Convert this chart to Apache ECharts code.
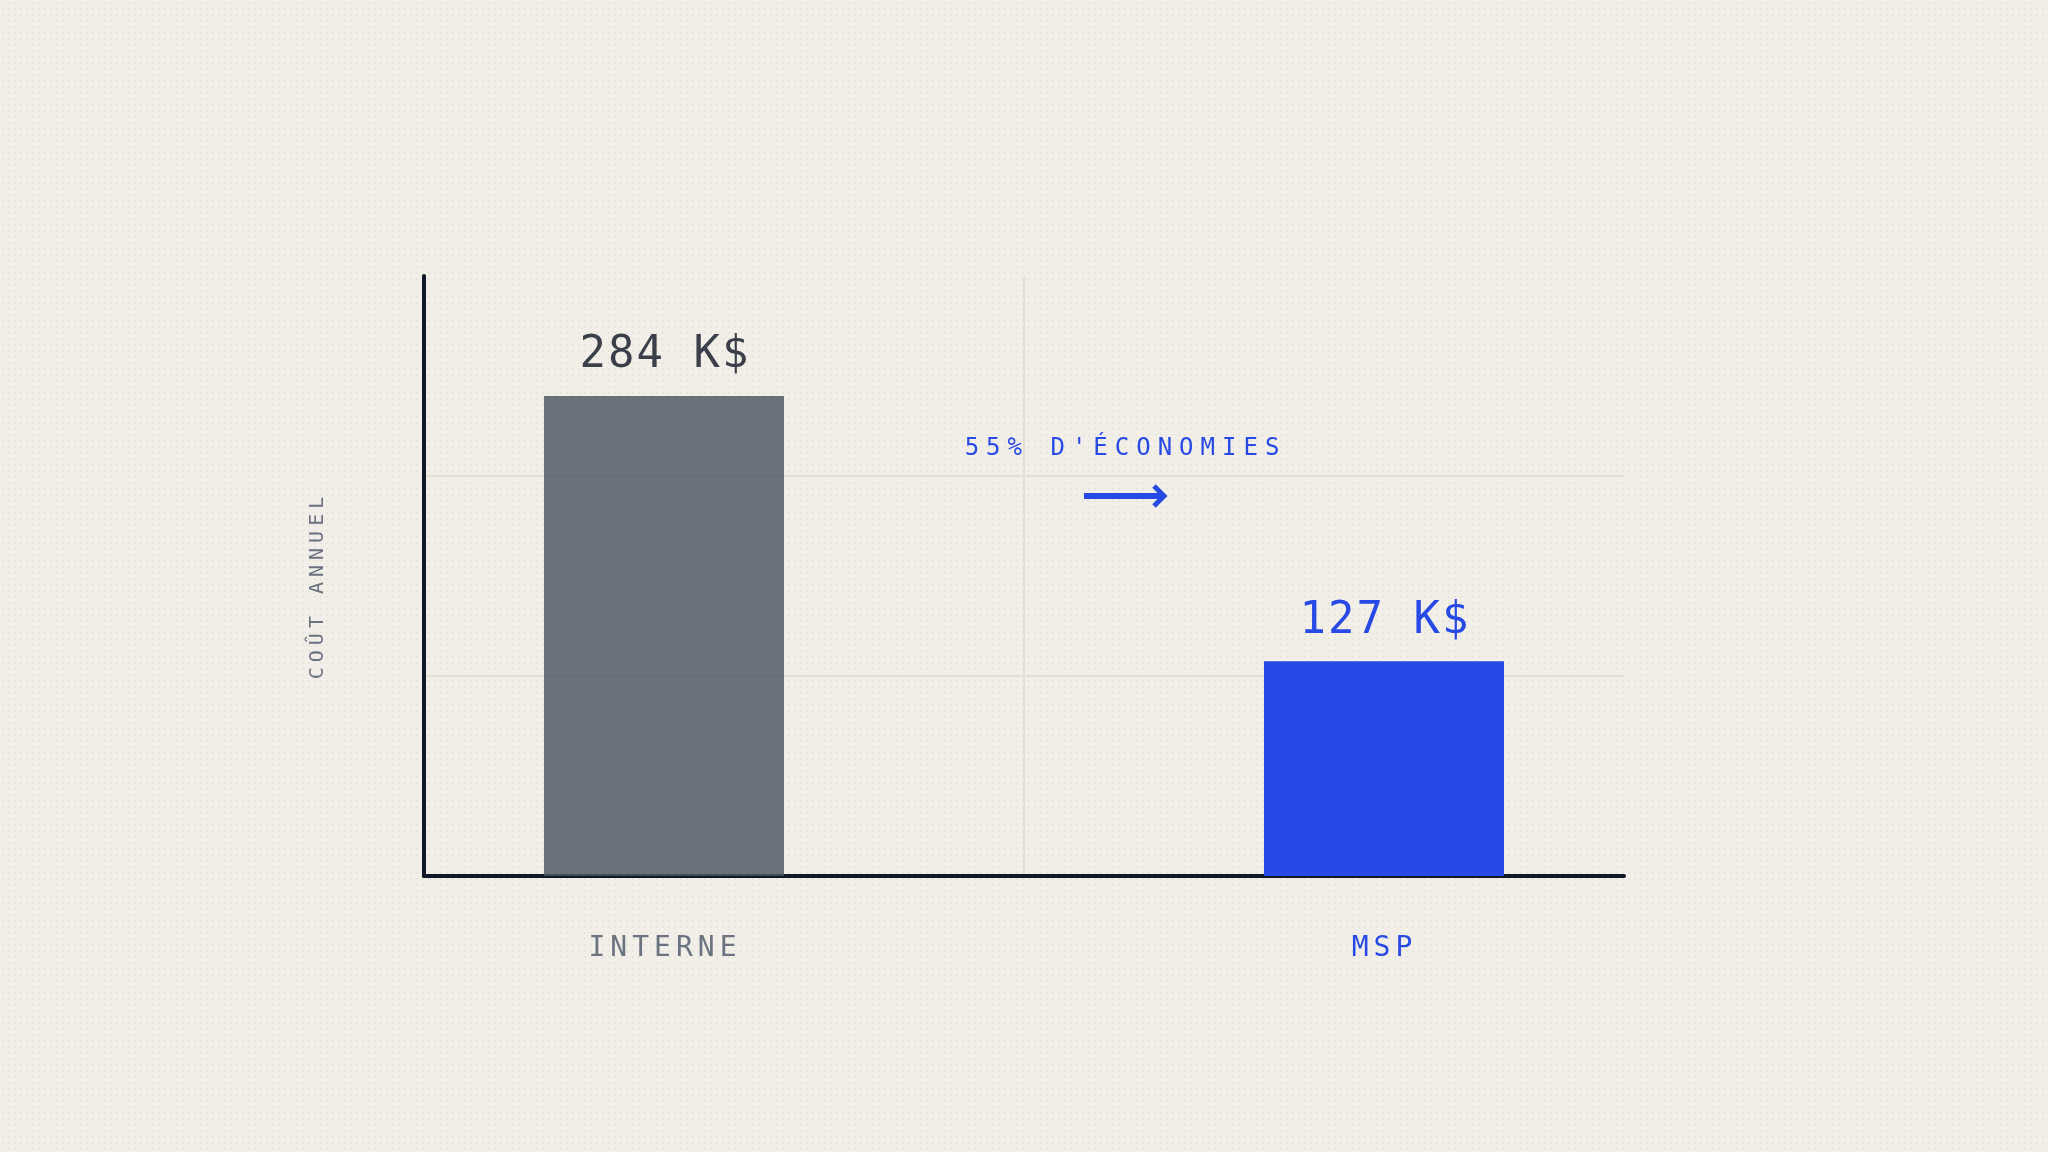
<!DOCTYPE html>
<html>
<head>
<meta charset="utf-8">
<script src="https://cdn.jsdelivr.net/npm/echarts@6/dist/echarts.min.js"></script>
<style>
  html, body { margin: 0; padding: 0; }
  body {
    width: 2048px; height: 1152px;
    background-color: #f2efe8;
    background-image: radial-gradient(circle, rgba(60, 55, 40, 0.05) 0.9px, transparent 1.3px);
    background-size: 6px 6px;
  }
  #main { width: 2048px; height: 1152px; }
</style>
</head>
<body>
<div id="main"></div>
<script>
var categories = ['INTERNE', 'MSP'];
var costs = [284, 127];          // K$ par an
var unit = ' K$';
var savingNote = "55% D'ÉCONOMIES";
var axisName = 'COÛT ANNUEL';
var yMax = 355;

var ink = '#111827';
var slate = '#6b7280';
var blue = '#2749e6';
var gridColor = '#e3dfd2';
var mono = 'DejaVu Sans Mono';

// spaced capitals: one rich token per character
function spaced(text, key, leadKey, trailKey) {
    var chars = text.split('');
    return chars.map(function (c, i) {
        var k = key;
        if (i === 0 && leadKey) k = leadKey;
        if (i === chars.length - 1 && trailKey) k = trailKey;
        return '{' + k + '|' + c + '}';
    }).join('');
}

function charStyle(color, size, pad) {
    return { color: color, fontSize: size, fontFamily: mono, padding: pad };
}

var dom = document.getElementById('main');
var myChart = echarts.init(dom, null, { renderer: 'canvas' });
var option = null;

option = {
    backgroundColor: 'transparent',
    animation: false,
    grid: {
        left: 424,
        top: 276,
        width: 1200,
        height: 600
    },
    xAxis: {
        type: 'category',
        data: categories,
        boundaryGap: true,
        axisLine: { lineStyle: { color: ink, width: 4 } },
        axisTick: { show: false },
        splitLine: {
            show: true,
            showMinLine: false,
            showMaxLine: false,
            lineStyle: { color: gridColor, width: 2 }
        },
        axisLabel: {
            margin: 59,
            formatter: function (value, index) {
                if (index === 0) return spaced(value, 'g', null, 'gTrail');
                return spaced(value, 'b', 'bLead', null);
            },
            rich: {
                g: charStyle(slate, 28, [0, 2.5, 0, 2.5]),
                gTrail: charStyle(slate, 28, [0, 125.5, 0, 2.5]),
                b: charStyle(blue, 28, [0, 2.5, 0, 2.5]),
                bLead: charStyle(blue, 28, [0, 2.5, 0, 118.5])
            }
        }
    },
    yAxis: {
        type: 'value',
        min: 0,
        max: yMax,
        interval: yMax / 3,
        name: spaced(axisName, 'n'),
        nameLocation: 'middle',
        nameRotate: 90,
        nameGap: 96,
        nameTextStyle: {
            padding: [0, 24, 0, 0],
            rich: {
                n: charStyle(slate, 20, [0, 2.5, 0, 2.5])
            }
        },
        axisLine: { show: true, lineStyle: { color: ink, width: 4 } },
        axisTick: { show: false },
        axisLabel: { show: false },
        splitLine: {
            show: true,
            showMinLine: false,
            showMaxLine: false,
            lineStyle: { color: gridColor, width: 2 }
        }
    },
    series: [
        {
            name: categories[0],
            type: 'bar',
            barWidth: 240,
            barGap: '-50%',
            data: costs.map(function (v, i) { return i === 0 ? v : '-'; }),
            itemStyle: { color: '#4b5563', opacity: 0.82 },
            label: {
                show: true,
                position: 'top',
                distance: 18,
                formatter: function (p) { return spaced(p.value + unit, 'v'); },
                rich: { v: charStyle(ink, 44, [0, 1, 0, 1]) }
            }
        },
        {
            name: categories[1],
            type: 'bar',
            barWidth: 240,
            barGap: '-50%',
            data: costs.map(function (v, i) { return i === 1 ? v : '-'; }),
            itemStyle: { color: blue },
            label: {
                show: true,
                position: 'top',
                distance: 18,
                formatter: function (p) { return spaced(p.value + unit, 'v'); },
                rich: { v: charStyle(blue, 44, [0, 1, 0, 1]) }
            }
        }
    ],
    graphic: [
        {
            type: 'text',
            x: 1122,
            y: 449,
            style: {
                text: spaced(savingNote, 's'),
                rich: {
                    s: {
                        fill: blue,
                        fontSize: 24,
                        fontFamily: mono,
                        font: '24px "DejaVu Sans Mono"',
                        padding: [0, 3.5, 0, 3.5]
                    }
                },
                fill: blue,
                font: '24px "DejaVu Sans Mono"',
                align: 'center',
                verticalAlign: 'middle',
                textAlign: 'center',
                textVerticalAlign: 'middle'
            }
        },
        {
            type: 'polyline',
            shape: { points: [[1084, 496], [1164, 496]] },
            style: { stroke: blue, lineWidth: 6, fill: null }
        },
        {
            type: 'polyline',
            shape: { points: [[1154, 486], [1164, 496], [1154, 506]] },
            style: { stroke: blue, lineWidth: 5, fill: null, lineJoin: 'miter' }
        }
    ]
};

if (option && typeof option === 'object') {
    myChart.setOption(option, true);
}
</script>
</body>
</html>
